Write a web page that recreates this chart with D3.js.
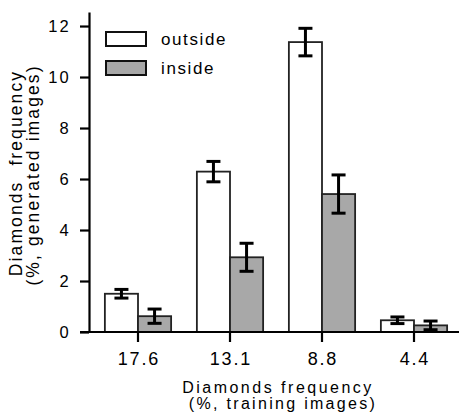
<!DOCTYPE html>
<html>
<head>
<meta charset="utf-8">
<script src="https://cdn.jsdelivr.net/npm/d3@7"></script>
<style>
  body { margin: 0; background: #fff; }
  text { font-family: "Liberation Sans", Arial, sans-serif; fill: #000; }
</style>
</head>
<body>
<script>
// data
const categories = ["17.6", "13.1", "8.8", "4.4"];
const outsideVals = [1.5, 6.29, 11.37, 0.46];
const outsideErr = [0.17, 0.4, 0.54, 0.13];
const insideVals = [0.62, 2.93, 5.41, 0.26];
const insideErr = [0.28, 0.55, 0.75, 0.17];
const seriesNames = ["outside", "inside"];
const seriesColors = ["#ffffff", "#a8a8a8"];
const yTicks = [0, 2, 4, 6, 8, 10, 12];

const W = 459, H = 416;
const svg = d3.select("body").append("svg")
  .attr("width", W).attr("height", H);

// scales
const y = d3.scaleLinear().domain([0, 12.55]).range([332, 12]);
const x = d3.scaleBand().domain(categories)
  .range([92, 460]).paddingInner(0.28).paddingOuter(0.14);
const xs = d3.scaleBand().domain(seriesNames).range([0, x.bandwidth()]);

// rows for bars
const rows = [];
categories.forEach((c, i) => {
  rows.push({ cat: c, s: "outside", v: outsideVals[i], e: outsideErr[i], col: seriesColors[0] });
  rows.push({ cat: c, s: "inside", v: insideVals[i], e: insideErr[i], col: seriesColors[1] });
});

// bars
svg.append("g").selectAll("rect")
  .data(rows).enter().append("rect")
  .attr("x", d => x(d.cat) + xs(d.s))
  .attr("y", d => y(d.v))
  .attr("width", xs.bandwidth())
  .attr("height", d => y(0) - y(d.v))
  .attr("fill", d => d.col)
  .attr("stroke", "#222")
  .attr("stroke-width", 1.8);

// error bars
const eb = svg.append("g").attr("stroke", "#000").attr("stroke-width", 3);
rows.forEach(d => {
  const cx = x(d.cat) + xs(d.s) + xs.bandwidth() / 2;
  eb.append("line").attr("x1", cx).attr("x2", cx)
    .attr("y1", y(d.v + d.e)).attr("y2", y(d.v - d.e));
  [d.v + d.e, d.v - d.e].forEach(t => {
    eb.append("line").attr("x1", cx - 7).attr("x2", cx + 7)
      .attr("y1", y(t)).attr("y2", y(t));
  });
});

// y axis
const yAxis = svg.append("g").attr("transform", "translate(89,0)")
  .call(d3.axisLeft(y).tickValues(yTicks).tickSize(9).tickSizeOuter(0).tickPadding(9));
yAxis.select(".domain").attr("stroke-width", 2.2);
yAxis.selectAll(".tick line").attr("stroke-width", 2.2);
yAxis.selectAll(".tick text")
  .style("font-size", "16.5px").style("letter-spacing", "2.2px")
  .attr("dy", "0.36em");

// x axis
const xAxis = svg.append("g").attr("transform", "translate(0,332)")
  .call(d3.axisBottom(x).tickSize(10).tickPadding(10));
xAxis.select(".domain").remove();
xAxis.append("line").attr("x1", 80).attr("x2", 459)
  .attr("stroke", "#000").attr("stroke-width", 2.2);
xAxis.selectAll(".tick line").attr("stroke-width", 2.2);
xAxis.selectAll(".tick text")
  .attr("dx", "0.9px")
  .style("font-size", "18px").style("letter-spacing", "1.8px");

// axis titles
svg.append("text").attr("text-anchor", "middle")
  .attr("x", 278).attr("y", 393)
  .style("font-size", "16px").style("letter-spacing", "2.5px")
  .text("Diamonds frequency");
svg.append("text").attr("text-anchor", "middle")
  .attr("x", 283).attr("y", 409)
  .style("font-size", "16px").style("letter-spacing", "2.3px")
  .text("(%, training images)");

const yt = svg.append("text").attr("text-anchor", "middle")
  .attr("transform", "translate(0,172) rotate(-90)")
  .style("font-size", "17.5px").style("letter-spacing", "2.1px");
yt.append("tspan").attr("x", -1).attr("y", 22)
  .style("word-spacing", "8px").text("Diamonds frequency");
yt.append("tspan").attr("x", -3).attr("y", 39).text("(%, generated images)");

// legend
const lg = svg.append("g");
seriesNames.forEach((n, i) => {
  lg.append("rect").attr("x", 106).attr("y", 32 + i * 29)
    .attr("width", 40).attr("height", 14)
    .attr("fill", seriesColors[i]).attr("stroke", "#111").attr("stroke-width", 2);
  lg.append("text").attr("x", 161).attr("y", 45 + i * 29)
    .style("font-size", "17px").style("letter-spacing", "1.6px")
    .text(n);
});
</script>
</body>
</html>
